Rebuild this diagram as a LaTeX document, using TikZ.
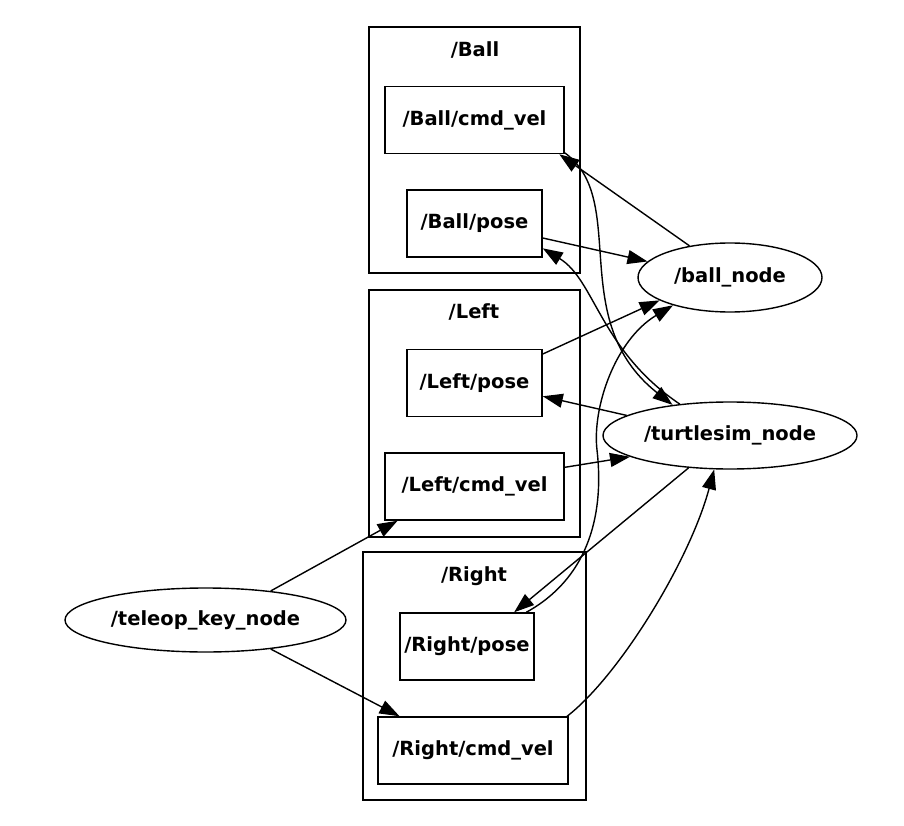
\documentclass[tikz,border=0pt]{standalone}
\usepackage{fontspec}
\setmainfont{DejaVu Sans}
\usetikzlibrary{arrows.meta,shapes.geometric}
\begin{document}
\begin{tikzpicture}[x=1pt,y=-1pt,
  every node/.style={font=\fontsize{19.5}{23}\selectfont\bfseries},
  group/.style={draw,line width=1.4pt},
  topic/.style={draw,line width=1.5pt,rectangle,inner sep=0pt,minimum height=67pt},
  rosnode/.style={draw,line width=1.4pt,ellipse,inner sep=0pt},
  edge/.style={line width=1.4pt,-{Triangle[length=20pt,width=14pt]}}]
  \useasboundingbox (0,0) rectangle (904,826);

  % Namespaces.
  \draw[group] (369,27) rectangle (580,273);
  \node (ballLbl) at (475,50) {/Ball};
  \draw[group] (369,290) rectangle (580,537);
  \node (leftLbl) at (474,312) {/Left};
  \draw[group] (363,552) rectangle (586,800);
  \node (rightLbl) at (474,576) {/Right};

  % Topics.
  \node[topic,minimum width=179pt] (ballCmd) at (474.5,120) {/Ball/cmd\_vel};
  \node[topic,minimum width=135pt] (ballPose) at (474.5,223.5) {/Ball/pose};
  \node[topic,minimum width=135pt] (leftPose) at (474.5,383) {/Left/pose};
  \node[topic,minimum width=179pt] (leftCmd) at (474.5,486.5) {/Left/cmd\_vel};
  \node[topic,minimum width=134pt] (rightPose) at (467,646.5) {/Right/pose};
  \node[topic,minimum width=190pt] (rightCmd) at (473,750.5) {/Right/cmd\_vel};

  % Nodes.
  \node[rosnode,minimum width=184pt,minimum height=69pt] (bn) at (730,277.5) {/ball\_node};
  \node[rosnode,minimum width=254pt,minimum height=67pt] (ts) at (730,435.5) {/turtlesim\_node};
  \node[rosnode,minimum width=281pt,minimum height=64pt] (teleop) at (205.5,620) {/teleop\_key\_node};
  \coordinate (rpVia) at (597,450);

  % ball_node.
  \draw[edge] (bn.142) -- (ballCmd.-22);
  \draw[edge] (ballPose.-12) -- (bn.169);
  \draw[edge] (leftPose.23) -- (bn.-162);
  \draw[edge] (rightPose.30) .. controls (585,580) and (605,520) .. (rpVia)
    .. controls (592,408) and (615,340) .. (bn.-154);

  % turtlesim_node.
  \draw[edge] (ballCmd.-20) .. controls (630,200) and (565,320) .. (ts.152);
  \draw[edge] (ts.148) .. controls (600,350) and (595,280) .. (ballPose.-20);
  \draw[edge] (ts.169) -- (leftPose.-11);
  \draw[edge] (leftCmd.12) -- (ts.-168);
  \draw[edge] (ts.-142) -- (rightPose.36);
  \draw[edge] (rightCmd.20) .. controls (620,675) and (690,560) .. (ts.-115);

  % teleop_key_node.
  \draw[edge] (teleop.24) -- (leftCmd.-156);
  \draw[edge] (teleop.-24) -- (rightCmd.155);
\end{tikzpicture}
\end{document}
